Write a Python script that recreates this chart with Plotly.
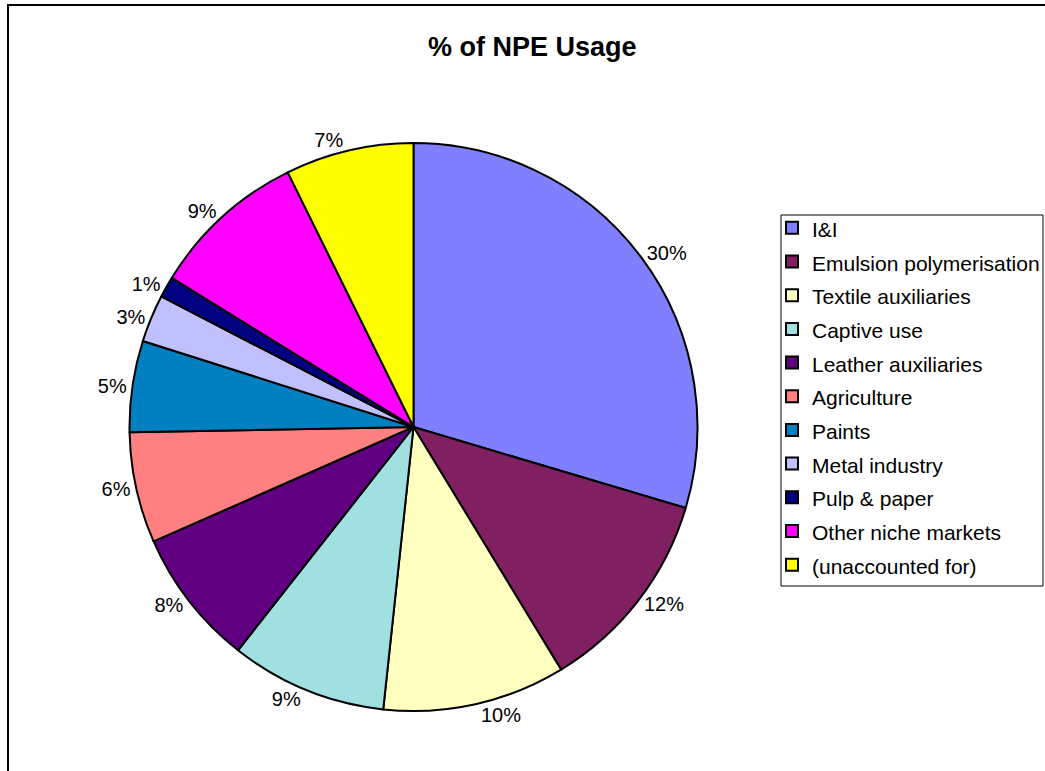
import plotly.graph_objects as go

categories = ["I&I", "Emulsion polymerisation", "Textile auxiliaries", "Captive use",
              "Leather auxiliaries", "Agriculture", "Paints", "Metal industry",
              "Pulp & paper", "Other niche markets", "(unaccounted for)"]
values = [29.6, 11.7, 10.4, 8.9, 7.8, 6.3, 5.2, 2.7, 1.2, 8.9, 7.3]
colors = ["#8080FF", "#802060", "#FFFFC0", "#A0E0E0", "#600080", "#FF8080",
          "#0080C0", "#C0C0FF", "#000080", "#FF00FF", "#FFFF00"]
title_text = "% of NPE Usage"

FONT = "Arial, Liberation Sans, sans-serif"
legend_labels = [f"<span style='font-size:21px'>{c}</span>" for c in categories]

W, H = 1045, 771

fig = go.Figure(go.Pie(
    labels=legend_labels,
    values=values,
    sort=False,
    direction="clockwise",
    rotation=0,
    marker=dict(colors=colors, line=dict(color="black", width=2)),
    textinfo="percent",
    texttemplate="%{percent:.0%}",
    textposition="outside",
    outsidetextfont=dict(family=FONT, size=20, color="black"),
    domain=dict(x=[129/W, 698/W], y=[1 - 711/H, 1 - 143/H]),
    automargin=False,
    hoverinfo="label+percent",
))

fig.update_layout(
    width=W, height=H,
    margin=dict(l=0, r=0, t=0, b=0),
    paper_bgcolor="white",
    font=dict(family=FONT, color="black"),
    showlegend=True,
    legend=dict(
        x=772/W, y=1 - 206/H, xanchor="left", yanchor="top",
        borderwidth=0, bgcolor="rgba(0,0,0,0)",
        font=dict(family=FONT, size=23.6, color="black"),
    ),
    annotations=[dict(
        text=f"<b>{title_text}</b>", x=532/W, y=1 - 47/H,
        xref="paper", yref="paper", showarrow=False,
        xanchor="center", yanchor="middle",
        font=dict(family=FONT, size=27, color="black"),
    )],
    shapes=[
        dict(type="rect", xref="paper", yref="paper",
             x0=8/W, x1=1.02, y0=-0.02, y1=1 - 5/H,
             line=dict(color="black", width=2), fillcolor="rgba(0,0,0,0)"),
        dict(type="rect", xref="paper", yref="paper",
             x0=781/W, x1=1043/W, y0=1 - 586/H, y1=1 - 215/H,
             line=dict(color="black", width=1), fillcolor="rgba(0,0,0,0)"),
    ],
)

fig.write_html("out.html")
